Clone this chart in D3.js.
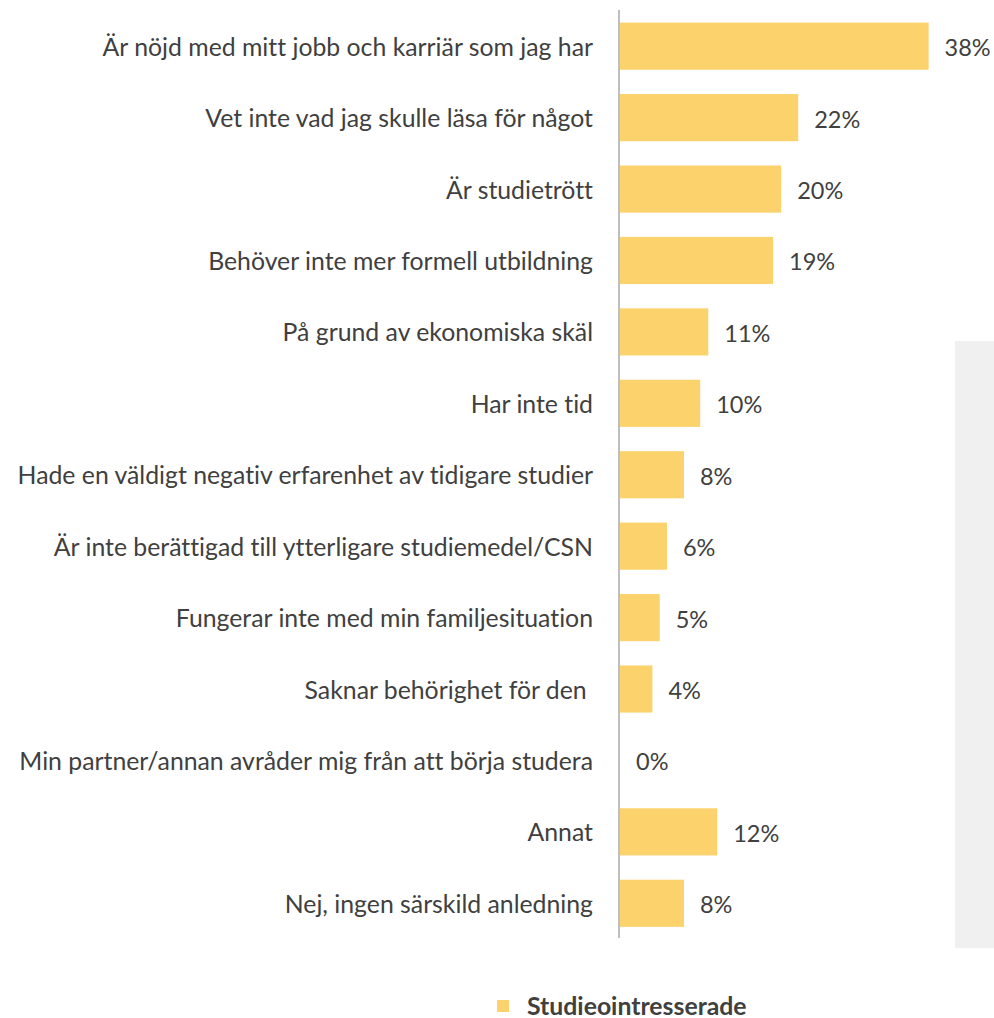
<!DOCTYPE html>
<html><head><meta charset="utf-8">
<script src="https://cdn.jsdelivr.net/npm/d3@7"></script>
<style>body{margin:0;background:#fff;}svg{display:block;}text{font-variant-ligatures:none;font-feature-settings:"liga" 0;}</style>
</head><body><svg id="c" width="994" height="1018"></svg>
<script>
const categories = [
  "Är nöjd med mitt jobb och karriär som jag har",
  "Vet inte vad jag skulle läsa för något",
  "Är studietrött",
  "Behöver inte mer formell utbildning",
  "På grund av ekonomiska skäl",
  "Har inte tid",
  "Hade en väldigt negativ erfarenhet av tidigare studier",
  "Är inte berättigad till ytterligare studiemedel/CSN",
  "Fungerar inte med min familjesituation",
  "Saknar behörighet för den ",
  "Min partner/annan avråder mig från att börja studera",
  "Annat",
  "Nej, ingen särskild anledning"
];
const values = [38.1, 22.0, 19.9, 18.9, 10.9, 9.9, 7.9, 5.8, 4.9, 4.0, 0, 12.0, 7.9];
const valueLabels = ["38%","22%","20%","19%","11%","10%","8%","6%","5%","4%","0%","12%","8%"];
const seriesName = "Studieointresserade";

const svg = d3.select("#c");
const font = "Lato, sans-serif";
const textColor = "#404040";
const barColor = "#fbd26c";
const fs = 24.8;

svg.append("rect").attr("x",955).attr("y",341).attr("width",39).attr("height",607).attr("fill","#f0f0f0");

const x = d3.scaleLinear().domain([0, 40]).range([620, 620 + 40*8.1]);
const y = d3.scaleBand().domain(categories).range([10.5, 939]).paddingInner(0.34).paddingOuter(0.17);

svg.append("g").selectAll("rect").data(categories).join("rect")
  .attr("x", x(0)).attr("y", d => y(d))
  .attr("width", (d,i) => x(values[i]) - x(0))
  .attr("height", y.bandwidth())
  .attr("fill", barColor);

svg.append("line").attr("x1",619).attr("x2",619).attr("y1",10).attr("y2",938)
  .attr("stroke","#bfbfbf").attr("stroke-width",2);

svg.append("g").selectAll("text").data(categories).join("text")
  .attr("x", 593).attr("y", d => y(d) + y.bandwidth()/2)
  .attr("text-anchor","end").attr("dominant-baseline","central")
  .attr("font-family", font).attr("font-size", fs).attr("fill", textColor)
  .style("white-space","pre")
  .text(d => d);

svg.append("g").selectAll("text").data(categories).join("text")
  .attr("x", (d,i) => x(values[i]) + 16).attr("y", d => y(d) + y.bandwidth()/2 + 1)
  .attr("dominant-baseline","central")
  .attr("font-family", font).attr("font-size", 23.5).attr("fill", textColor)
  .text((d,i) => valueLabels[i]);

svg.append("rect").attr("x",497).attr("y",1000).attr("width",12).attr("height",12).attr("fill",barColor);
svg.append("text").attr("x",527).attr("y",1005).attr("dominant-baseline","central")
  .attr("font-family", font).attr("font-size",fs).attr("font-weight","bold").attr("fill",textColor)
  .text(seriesName);
</script></body></html>
